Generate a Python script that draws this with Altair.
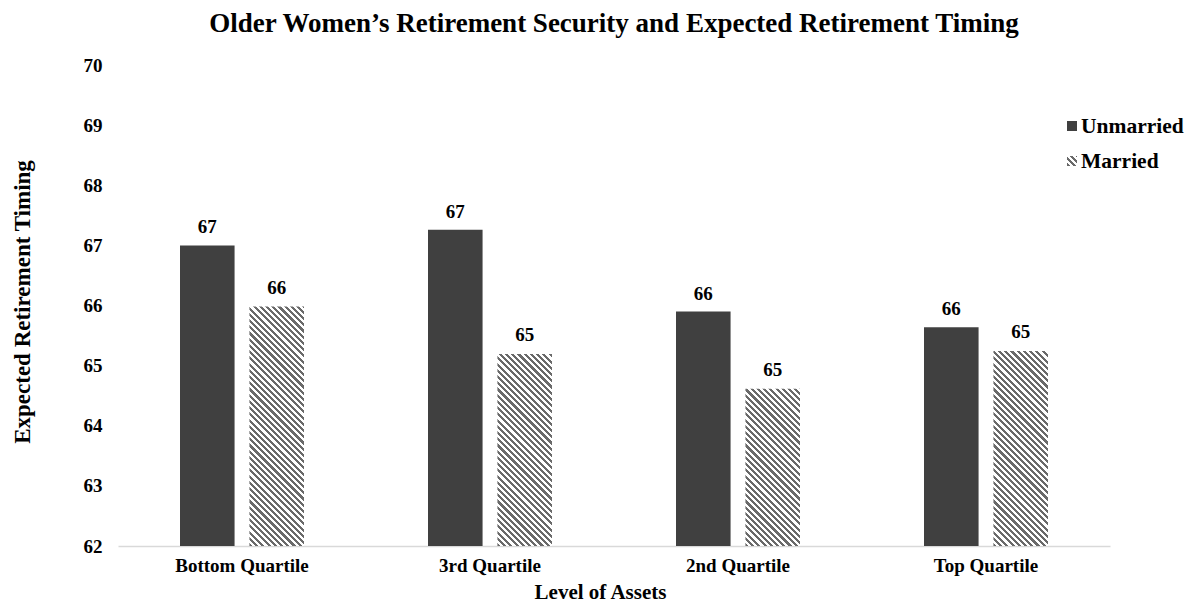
import math
import altair as alt
import pandas as pd

# ---------------- data ----------------
CATEGORIES = ["Bottom Quartile", "3rd Quartile", "2nd Quartile", "Top Quartile"]
STATUS = ["Unmarried", "Married"]
UNMARRIED = [67.0, 67.26, 65.90, 65.64]
MARRIED = [66.0, 65.21, 64.63, 65.26]
Y_TICKS = [62, 63, 64, 65, 66, 67, 68, 69, 70]

TITLE = "Older Women\u2019s Retirement Security and Expected Retirement Timing"
Y_TITLE = "Expected Retirement Timing"
X_TITLE = "Level of Assets"

# ---------------- style ----------------
FONT = "Liberation Serif"
DARK = "#404040"
HATCH = "#6a6a6a"
PLOT_W, PLOT_H = 992, 481
PAD_INNER, PAD_OUTER = 0.5, 0.25
OFF_INNER = 0.214

rows = []
for i, c in enumerate(CATEGORIES):
    rows.append({"cat": c, "status": STATUS[0], "value": UNMARRIED[i]})
    rows.append({"cat": c, "status": STATUS[1], "value": MARRIED[i]})
df = pd.DataFrame(rows)
legend_df = pd.DataFrame({"status": STATUS})

# bar geometry (only used to orient the hatch gradient at 45 degrees)
step = PLOT_W / (len(CATEGORIES) - PAD_INNER + 2 * PAD_OUTER)
band = step * (1 - PAD_INNER)
off_step = band / (len(STATUS) - OFF_INNER)
bar_w = off_step * (1 - OFF_INNER)


def hatch(w, h, period, c1, c2, frac=0.5):
    a, b = 1.0, -h / w
    s = (a - b) / (a * a + b * b)
    x1, y1 = 0.0, 1.0
    x2, y2 = s * a, 1.0 + s * b
    n = (w + h) / math.sqrt(2) / period
    stops = []
    k = 0
    while k < n:
        o0 = round(min(k / n, 1), 5)
        o1 = round(min((k + frac) / n, 1), 5)
        o2 = round(min((k + 1) / n, 1), 5)
        stops += [
            {"offset": o0, "color": c1},
            {"offset": o1, "color": c1},
            {"offset": o1, "color": c2},
            {"offset": o2, "color": c2},
        ]
        k += 1
    return {"gradient": "linear", "x1": x1, "y1": y1, "x2": round(x2, 5),
            "y2": round(y2, 5), "stops": stops}


BAR_HATCH = hatch(bar_w, PLOT_H, 4.4, HATCH, "#ffffff")
LEG_HATCH = hatch(10, 10, 4.4, HATCH, "#ffffff")

x_enc = alt.X(
    "cat:N", sort=CATEGORIES,
    scale=alt.Scale(paddingInner=PAD_INNER, paddingOuter=PAD_OUTER),
    axis=alt.Axis(
        labelAngle=0, ticks=False, grid=False, domainColor="#d9d9d9", domainWidth=1.5,
        labelFont=FONT, labelFontSize=19, labelFontWeight="bold", labelColor="black",
        labelPadding=10, title=X_TITLE, titleFont=FONT, titleFontSize=21,
        titleFontWeight="bold", titleColor="black", titlePadding=6, titleX=482,
    ),
)
xoff = alt.XOffset("status:N", sort=STATUS,
                   scale=alt.Scale(paddingInner=OFF_INNER, paddingOuter=0))
y_scale = alt.Scale(domain=[Y_TICKS[0], Y_TICKS[-1]], nice=False, zero=False)

base = alt.Chart(df)

bars = base.transform_filter(alt.datum.status == STATUS[0]).mark_bar(color=DARK).encode(
    x=x_enc,
    xOffset=xoff,
    y=alt.Y(
        "value:Q", scale=y_scale,
        axis=alt.Axis(
            values=Y_TICKS, format="d", ticks=False, domain=False, grid=False,
            labelFont=FONT, labelFontSize=19, labelFontWeight="bold", labelColor="black",
            labelPadding=16, title=Y_TITLE, titleFont=FONT, titleFontSize=23,
            titleFontWeight="bold", titleColor="black", titleX=-96, titleY=PLOT_H / 2 - 4,
            titleAngle=270, titleAlign="center", titleBaseline="middle",
        ),
    ),
    y2=alt.datum(Y_TICKS[0]),
)

married = base.transform_filter(alt.datum.status == STATUS[1])

hatched = married.mark_bar(color=BAR_HATCH).encode(
    x=x_enc, xOffset=xoff,
    y=alt.Y(datum=Y_TICKS[-1], scale=y_scale),
    y2=alt.datum(Y_TICKS[0]),
)

cover = married.mark_bar(color="#ffffff", stroke="#ffffff", strokeWidth=2).encode(
    x=x_enc, xOffset=xoff,
    y=alt.Y("value:Q", scale=y_scale),
    y2=alt.datum(Y_TICKS[-1]),
)

labels = base.mark_text(
    font=FONT, fontSize=19, fontWeight="bold", baseline="bottom", dy=-8, color="black"
).encode(
    x=x_enc, xOffset=xoff,
    y=alt.Y("value:Q", scale=y_scale),
    text=alt.Text("value:Q", format=".0f"),
)

# ---------------- manual legend ----------------
LEG_X, LEG_Y0, LEG_DY, SYM = 949, 56, 35, 10
leg = alt.Chart(legend_df)
leg_layers = []
for i, (st, fill) in enumerate(zip(STATUS, [DARK, LEG_HATCH])):
    sub = leg.transform_filter(alt.datum.status == st)
    top = LEG_Y0 + i * LEG_DY
    leg_layers.append(sub.mark_rect(color=fill).encode(
        x=alt.value(LEG_X), x2=alt.value(LEG_X + SYM),
        y=alt.value(top), y2=alt.value(top + SYM)))
    leg_layers.append(sub.mark_text(
        font=FONT, fontSize=21.5, fontWeight="bold", color="black",
        align="left", baseline="middle").encode(
        x=alt.value(LEG_X + SYM + 4), y=alt.value(top + SYM / 2 + 1),
        text="status:N"))

chart = alt.layer(bars, hatched, cover, labels, *leg_layers).properties(
    width=PLOT_W,
    height=PLOT_H,
    padding={"left": 110, "top": 57, "right": 78, "bottom": 56},
    autosize=alt.AutoSizeParams(type="none"),
    title=alt.Title(TITLE, font=FONT, fontSize=27, fontWeight="bold", color="black",
                    anchor="middle", offset=18),
).configure_view(stroke=None)

chart.save("out.html", embed_options={"renderer": "svg", "actions": False})
